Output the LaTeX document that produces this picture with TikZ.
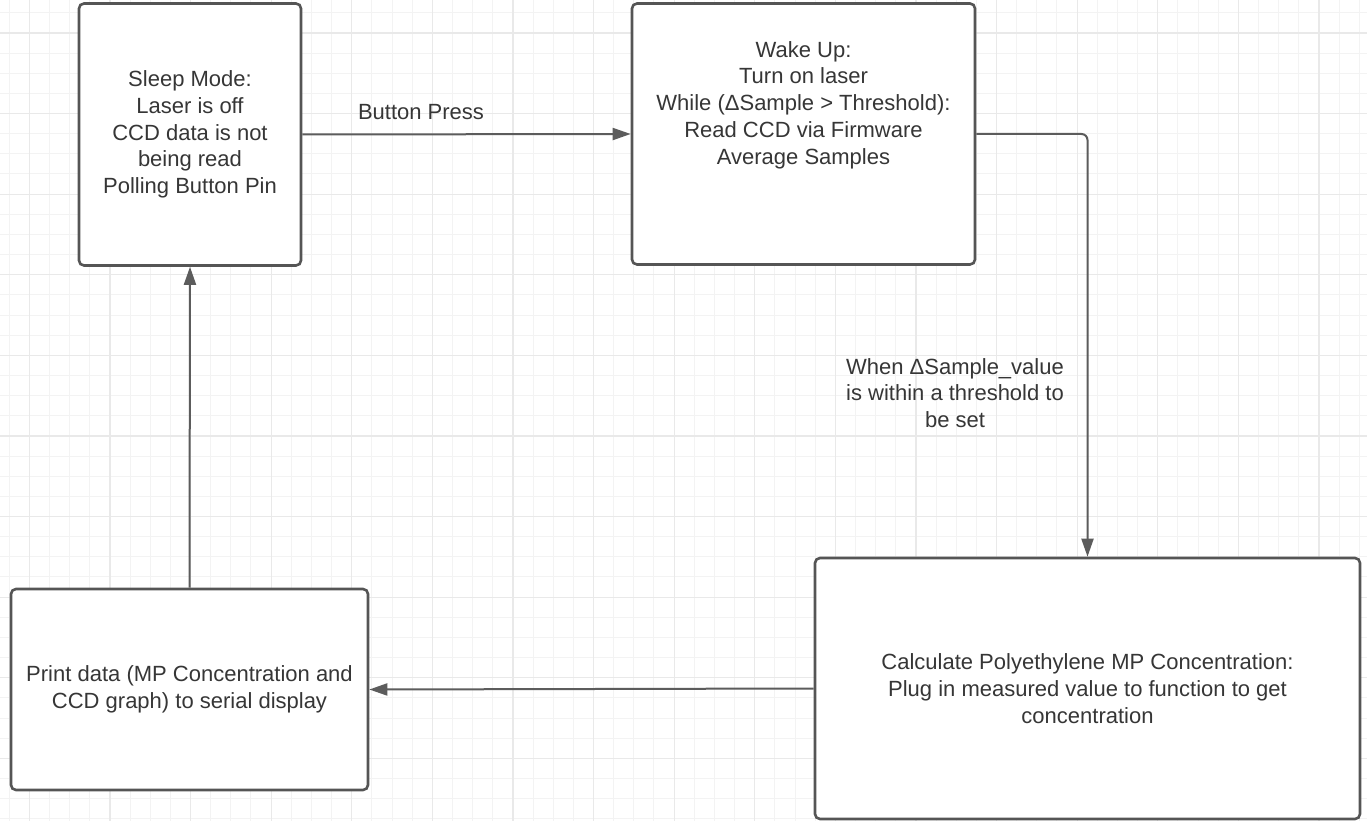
\documentclass[tikz,border=0pt]{standalone}
\usepackage{fontspec}
\setmainfont{Liberation Sans}
\usetikzlibrary{arrows.meta}
\definecolor{edgegrey}{HTML}{555555}
\definecolor{linkgrey}{HTML}{5C5C5C}
\definecolor{inkgrey}{HTML}{363636}
\definecolor{gridminor}{HTML}{F3F3F3}
\definecolor{gridmajor}{HTML}{E9E9E9}
\begin{document}
\begin{tikzpicture}[x=1pt,y=-1pt,
  statebox/.style={draw=edgegrey, line width=2.6pt, fill=white,
    rounded corners=5pt, inner sep=0pt, align=center,
    text=inkgrey, font=\fontsize{22}{26.7}\selectfont},
  plaintext/.style={inner sep=0pt, align=center, text=inkgrey,
    font=\fontsize{22}{26.7}\selectfont},
  link/.style={draw=linkgrey, line width=2pt,
    -{Triangle[length=18pt,width=12pt]}}]
  % canvas and grid
  \fill[white] (0,0) rectangle (1367,821);
  \useasboundingbox (0,0) rectangle (1367,821);
  \foreach \k in {0,...,67} {
    \draw[gridminor, line width=1pt] ({9.15+20.15*\k},0) -- ({9.15+20.15*\k},821);
  }
  \foreach \k in {0,...,40} {
    \draw[gridminor, line width=1pt] (0,{12.75+20.15*\k}) -- (1367,{12.75+20.15*\k});
  }
  \foreach \k in {0,...,16} {
    \draw[gridmajor, line width=1.2pt] ({29.3+80.6*\k},0) -- ({29.3+80.6*\k},821);
  }
  \foreach \k in {0,...,9} {
    \draw[gridmajor, line width=1.2pt] (0,{33+80.6*\k}) -- (1367,{33+80.6*\k});
  }

  % states
  \node[statebox, minimum width=222pt, minimum height=262pt] (sleep) at (190,134.5)
    {Sleep Mode:\\Laser is off\\CCD data is not\\being read\\Polling Button Pin};
  \node[statebox, minimum width=343pt, minimum height=261pt] (wake) at (803.5,134) {};
  \node[plaintext] (waketext) at (803.5,105)
    {Wake Up:\\Turn on laser\\While (ΔSample > Threshold):\\Read CCD via Firmware\\Average Samples};
  \node[statebox, minimum width=545pt, minimum height=261pt] (calc) at (1087.5,688.5)
    {Calculate Polyethylene MP Concentration:\\Plug in measured value to function to get\\concentration};
  \node[statebox, minimum width=357pt, minimum height=201pt] (print) at (189.5,689.5)
    {Print data (MP Concentration and\\CCD graph) to serial display};

  % transitions
  \draw[link] (sleep.east) -- (wake.west);
  \node[plaintext] (presslabel) at (421,112) {Button Press};
  \draw[link, rounded corners=6pt] (wake.east) -| (calc.north);
  \node[plaintext] (settlelabel) at (955,393)
    {When ΔSample\_value\\is within a threshold to\\be set};
  \draw[link] (calc.west) -- (print.east);
  \draw[link] (print.north) -- (sleep.south);
\end{tikzpicture}
\end{document}
